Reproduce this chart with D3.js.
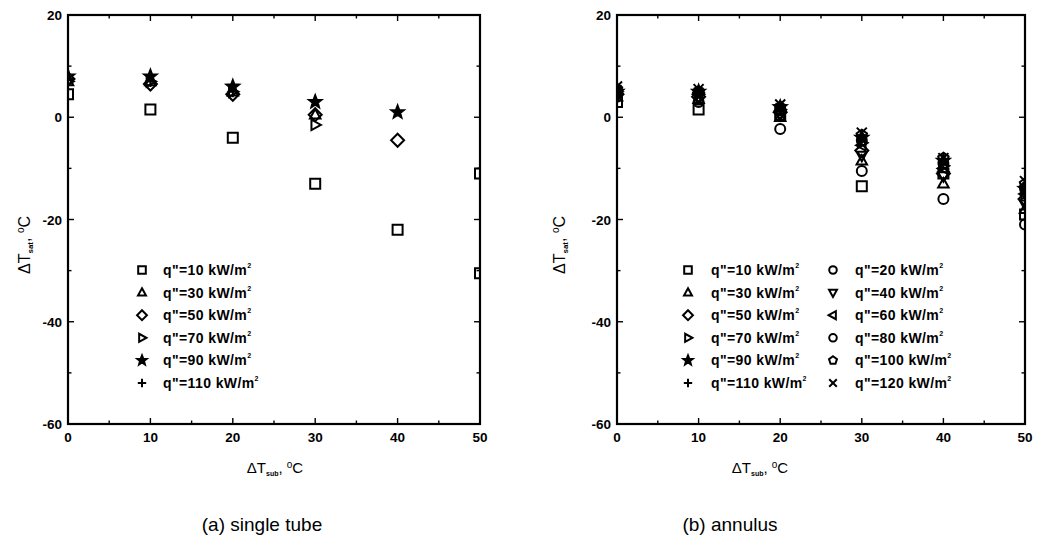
<!DOCTYPE html>
<html><head><meta charset="utf-8">
<script src="https://cdn.jsdelivr.net/npm/d3@7"></script>
<style>
html,body{margin:0;padding:0;background:#fff;}
svg{display:block;font-family:"Liberation Sans",Arial,sans-serif;}
</style></head>
<body><svg id="c" width="1038" height="549"></svg>
<script>
// ---------- data ----------
const xTicks = [0, 10, 20, 30, 40, 50];
const yTicks = [20, 0, -20, -40, -60];
const panelCaptions = ["(a) single tube", "(b) annulus"];

// (a) single tube : [ΔTsub, ΔTsat]
const tubeLabels  = ["q\"=10 kW/m", "q\"=30 kW/m", "q\"=50 kW/m", "q\"=70 kW/m", "q\"=90 kW/m", "q\"=110 kW/m"];
const tubeSymbols = ["square", "triUp", "diamond", "triRight", "star", "plus"];
const tubeQ10  = [[0, 4.5], [10, 1.5], [20, -4], [30, -13], [40, -22], [50, -11], [50, -30.5]];
const tubeQ30  = [[0, 7], [10, 7], [20, 5], [30, 0.5]];
const tubeQ50  = [[0, 7.5], [10, 6.5], [20, 4.5], [30, 0.5], [40, -4.5]];
const tubeQ70  = [[0, 7], [10, 7], [20, 5], [30, -1.5]];
const tubeQ90  = [[0, 8], [10, 8], [20, 6], [30, 3], [40, 1]];
const tubeQ110 = [[0, 7.5], [10, 7], [20, 5]];

// (b) annulus
const annLabels  = ["q\"=10 kW/m", "q\"=20 kW/m", "q\"=30 kW/m", "q\"=40 kW/m", "q\"=50 kW/m", "q\"=60 kW/m",
                    "q\"=70 kW/m", "q\"=80 kW/m", "q\"=90 kW/m", "q\"=100 kW/m", "q\"=110 kW/m", "q\"=120 kW/m"];
const annSymbols = ["square", "circle", "triUp", "triDown", "diamond", "triLeft",
                    "triRight", "circle", "star", "pentagon", "plus", "cross"];
const annQ10  = [[0, 3], [10, 1.5], [20, 0.5], [30, -13.5], [40, -11], [50, -19]];
const annQ20  = [[0, 4], [10, 3], [20, -2.3], [30, -10.5], [40, -16], [50, -21]];
const annQ30  = [[0, 4], [10, 3.5], [20, 0], [30, -8.5], [40, -13], [50, -18]];
const annQ40  = [[0, 4.5], [10, 4], [20, 0.5], [30, -7.5], [40, -11.5], [50, -17]];
const annQ50  = [[0, 4.5], [10, 4], [20, 1], [30, -6.5], [40, -11], [50, -16]];
const annQ60  = [[0, 5], [10, 4.5], [20, 1], [30, -5.5], [40, -10], [50, -15]];
const annQ70  = [[0, 5], [10, 4.5], [20, 1.5], [30, -5], [40, -9.5], [50, -15]];
const annQ80  = [[0, 5], [10, 5], [20, 1.5], [30, -4.5], [40, -9], [50, -14]];
const annQ90  = [[0, 5], [10, 5], [20, 2], [30, -4], [40, -8.5], [50, -14]];
const annQ100 = [[0, 5.5], [10, 5], [20, 2], [30, -3.5], [40, -8], [50, -13]];
const annQ110 = [[0, 5.5], [10, 5], [20, 2], [30, -3.5], [40, -8.5], [50, -13.5]];
const annQ120 = [[0, 6], [10, 5.5], [20, 2.5], [30, -3], [40, -8], [50, -12.5]];

const tubeSeries = [tubeQ10, tubeQ30, tubeQ50, tubeQ70, tubeQ90, tubeQ110];
const annSeries  = [annQ10, annQ20, annQ30, annQ40, annQ50, annQ60, annQ70, annQ80, annQ90, annQ100, annQ110, annQ120];

// ---------- marker paths ----------
function markerPath(type, r) {
  const poly = pts => "M" + pts.map(p => p[0].toFixed(2) + "," + p[1].toFixed(2)).join("L") + "Z";
  const rot = (pts, a) => pts.map(([x, y]) => [x * Math.cos(a) - y * Math.sin(a), x * Math.sin(a) + y * Math.cos(a)]);
  const tri = [[0, -r * 1.15], [r * 1.05, r * 0.75], [-r * 1.05, r * 0.75]];
  switch (type) {
    case "square": return poly([[-r, -r], [r, -r], [r, r], [-r, r]]);
    case "circle": return `M${r},0A${r},${r} 0 1,1 ${-r},0A${r},${r} 0 1,1 ${r},0Z`;
    case "triUp": return poly(tri);
    case "triDown": return poly(rot(tri, Math.PI));
    case "triRight": return poly(rot(tri, Math.PI / 2));
    case "triLeft": return poly(rot(tri, -Math.PI / 2));
    case "diamond": { const d = r * 1.3; return poly([[0, -d], [d, 0], [0, d], [-d, 0]]); }
    case "pentagon": {
      const p = d3.range(5).map(i => { const a = -Math.PI / 2 + i * 2 * Math.PI / 5; return [r * 1.1 * Math.cos(a), r * 1.1 * Math.sin(a)]; });
      return poly(p);
    }
    case "star": {
      const p = d3.range(10).map(i => { const a = -Math.PI / 2 + i * Math.PI / 5; const rr = i % 2 ? r * 0.55 : r * 1.3; return [rr * Math.cos(a), rr * Math.sin(a)]; });
      return poly(p);
    }
    case "plus": return `M${-r * 1.1},0H${r * 1.1}M0,${-r * 1.1}V${r * 1.1}`;
    case "cross": return `M${-r},${-r}L${r},${r}M${r},${-r}L${-r},${r}`;
  }
}
const isFilled = t => t === "star";

// ---------- drawing ----------
const svg = d3.select("#c");
const plotTop = 15, plotBottom = 424;

function panel(opt) {
  const {left, right, series, symbols, labels, legendCols, idx, yLabelX, xTitleX, captionX} = opt;
  const x = d3.scaleLinear().domain([0, 50]).range([left, right]);
  const y = d3.scaleLinear().domain([-60, 20]).range([plotBottom, plotTop]);
  const g = svg.append("g");
  const clipId = "clip" + idx;
  svg.append("clipPath").attr("id", clipId).append("rect")
    .attr("x", left).attr("y", plotTop).attr("width", right - left).attr("height", plotBottom - plotTop);

  // ticks (inside)
  const xMinor = d3.range(5, 50, 10), yMinor = d3.range(10, -60, -20);
  const tk = g.append("g").attr("stroke", "#000").attr("stroke-width", 1.4);
  xTicks.forEach(v => {
    tk.append("line").attr("x1", x(v)).attr("x2", x(v)).attr("y1", plotBottom).attr("y2", plotBottom - 6);
    tk.append("line").attr("x1", x(v)).attr("x2", x(v)).attr("y1", plotTop).attr("y2", plotTop + 6);
  });
  xMinor.forEach(v => {
    tk.append("line").attr("x1", x(v)).attr("x2", x(v)).attr("y1", plotBottom).attr("y2", plotBottom - 3.5);
    tk.append("line").attr("x1", x(v)).attr("x2", x(v)).attr("y1", plotTop).attr("y2", plotTop + 3.5);
  });
  yTicks.forEach(v => {
    tk.append("line").attr("x1", left).attr("x2", left + 6).attr("y1", y(v)).attr("y2", y(v));
    tk.append("line").attr("x1", right).attr("x2", right - 6).attr("y1", y(v)).attr("y2", y(v));
  });
  yMinor.forEach(v => {
    tk.append("line").attr("x1", left).attr("x2", left + 3.5).attr("y1", y(v)).attr("y2", y(v));
    tk.append("line").attr("x1", right).attr("x2", right - 3.5).attr("y1", y(v)).attr("y2", y(v));
  });

  // frame
  g.append("rect").attr("x", left).attr("y", plotTop).attr("width", right - left).attr("height", plotBottom - plotTop)
    .attr("fill", "none").attr("stroke", "#000").attr("stroke-width", 2.2);

  // tick labels
  g.selectAll(".xl").data(xTicks).join("text")
    .attr("x", d => x(d)).attr("y", plotBottom + 18).attr("text-anchor", "middle")
    .attr("font-size", 13.5).attr("font-weight", "bold").text(d => d);
  g.selectAll(".yl").data(yTicks).join("text")
    .attr("x", left - 6).attr("y", d => y(d) + 5).attr("text-anchor", "end")
    .attr("font-size", 13.5).attr("font-weight", "bold").text(d => d);

  // axis titles
  const xt = g.append("text").attr("x", xTitleX).attr("y", 473)
    .attr("text-anchor", "middle").attr("font-size", 15);
  xt.append("tspan").text("ΔT");
  xt.append("tspan").attr("font-size", 7).attr("font-weight", "bold").attr("dy", 3).text("sub");
  xt.append("tspan").attr("dy", -3).text(",   ");
  xt.append("tspan").attr("font-size", 10).attr("dy", -5).text("o");
  xt.append("tspan").attr("dy", 5).text("C");

  const yt = g.append("text").attr("transform", `translate(${yLabelX},245) rotate(-90)`)
    .attr("text-anchor", "middle").attr("font-size", 16);
  yt.append("tspan").text("ΔT");
  yt.append("tspan").attr("font-size", 8).attr("font-weight", "bold").attr("dy", 3).text("sat");
  yt.append("tspan").attr("dy", -3).text(",    ");
  yt.append("tspan").attr("font-size", 10).attr("dy", -6).text("o");
  yt.append("tspan").attr("dy", 6).text("C");

  // caption
  g.append("text").attr("x", captionX).attr("y", 531).attr("text-anchor", "middle")
    .attr("font-size", 19).text(panelCaptions[idx]);

  // data
  const pg = svg.append("g").attr("clip-path", `url(#${clipId})`);
  series.forEach((s, i) => {
    const t = symbols[i];
    pg.selectAll(null).data(s).join("path")
      .attr("transform", d => `translate(${x(d[0])},${y(d[1])})`)
      .attr("d", markerPath(t, 5))
      .attr("fill", isFilled(t) ? "#000" : "none")
      .attr("stroke", "#000").attr("stroke-width", 2);
  });

  // legend
  const rowY = d3.range(6).map(i => 270 + i * 22.6);
  labels.forEach((lab, i) => {
    const col = legendCols.length === 1 ? legendCols[0] : legendCols[i % 2];
    const row = legendCols.length === 1 ? i : Math.floor(i / 2);
    const t = symbols[i];
    svg.append("path").attr("transform", `translate(${col.sx},${rowY[row]})`)
      .attr("d", markerPath(t, 3.8))
      .attr("fill", isFilled(t) ? "#000" : "none")
      .attr("stroke", "#000").attr("stroke-width", 2);
    const tx = svg.append("text").attr("x", col.tx).attr("y", rowY[row] + 5)
      .attr("font-size", 14).attr("font-weight", "bold").attr("letter-spacing", 0.4);
    tx.append("tspan").text(lab);
    tx.append("tspan").attr("font-size", 7).attr("dy", -7).text("2");
  });
}

panel({left: 68, right: 480, series: tubeSeries, symbols: tubeSymbols, labels: tubeLabels,
       legendCols: [{sx: 142, tx: 163}], idx: 0, yLabelX: 30, xTitleX: 275, captionX: 262});
panel({left: 617, right: 1025, series: annSeries, symbols: annSymbols, labels: annLabels,
       legendCols: [{sx: 688, tx: 711}, {sx: 833, tx: 855}], idx: 1, yLabelX: 565, xTitleX: 760, captionX: 730});
</script></body></html>
